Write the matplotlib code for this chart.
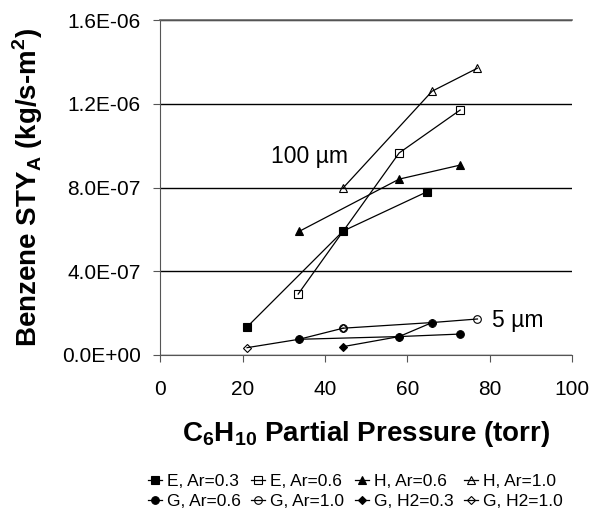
import matplotlib.pyplot as plt
from matplotlib.ticker import FuncFormatter, MultipleLocator

plt.rcParams['font.family'] = ['Liberation Sans', 'DejaVu Sans']

# data (x = C6H10 partial pressure, torr)
e_ar03_x = [21.1, 44.4, 64.8]
e_ar03_y = [1.34e-7, 5.92e-7, 7.80e-7]
e_ar06_x = [33.5, 58.0, 72.8]
e_ar06_y = [2.91e-7, 9.65e-7, 1.17e-6]
h_ar06_x = [33.7, 58.0, 72.8]
h_ar06_y = [5.90e-7, 8.40e-7, 9.07e-7]
h_ar10_x = [44.4, 66.0, 77.0]
h_ar10_y = [7.98e-7, 1.26e-6, 1.37e-6]
g_ar06_x = [33.7, 58.0, 72.8]
g_ar06_y = [0.75e-7, 0.88e-7, 1.00e-7]
g_ar10_x = [44.4, 66.0, 77.0]
g_ar10_y = [1.28e-7, 1.55e-7, 1.72e-7]
g_h03_x = [44.4, 58.0, 66.0]
g_h03_y = [0.40e-7, 0.88e-7, 1.55e-7]
g_h10_x = [21.1, 33.7, 44.4]
g_h10_y = [0.35e-7, 0.75e-7, 1.28e-7]

series = [
    ("E, Ar=0.3", e_ar03_x, e_ar03_y, 's', 'full'),
    ("E, Ar=0.6", e_ar06_x, e_ar06_y, 's', 'none'),
    ("H, Ar=0.6", h_ar06_x, h_ar06_y, '^', 'full'),
    ("H, Ar=1.0", h_ar10_x, h_ar10_y, '^', 'none'),
    ("G, Ar=0.6", g_ar06_x, g_ar06_y, 'o', 'full'),
    ("G, Ar=1.0", g_ar10_x, g_ar10_y, 'o', 'none'),
    ("G, H2=0.3", g_h03_x, g_h03_y, 'D', 'full'),
    ("G, H2=1.0", g_h10_x, g_h10_y, 'D', 'none'),
]

fig = plt.figure(figsize=(5.93, 5.13), dpi=100)
ax = fig.add_axes([0.27, 0.308, 0.695, 0.653])

handles = []
for label, xs, ys, mk, fs in series:
    ms = 4.5 if mk == 'D' else 5.5
    ln, = ax.plot(xs, ys, color='black', lw=0.9, marker=mk, markersize=ms,
                  fillstyle=fs, markerfacecolor='black' if fs == 'full' else 'white',
                  markeredgecolor='black', markeredgewidth=0.8, label=label)
    handles.append(ln)

ax.set_xlim(0, 100)
ax.set_ylim(0, 1.6e-6)
ax.xaxis.set_major_locator(MultipleLocator(20))
ax.yaxis.set_major_locator(MultipleLocator(4e-7))
ax.yaxis.set_major_formatter(FuncFormatter(lambda v, p: f"{v:.1E}"))
ax.grid(axis='y', color='black', lw=1)
ax.set_axisbelow(True)
ax.spines['right'].set_visible(False)
ax.spines['top'].set_color('#666666')
ax.spines['top'].set_linewidth(1.2)
for s in ['left', 'bottom']:
    ax.spines[s].set_color('#555555')
ax.tick_params(axis='both', labelsize=15, length=5, color='#555555')
ax.tick_params(axis='y', pad=9)
ax.tick_params(axis='x', pad=13)

ax.set_ylabel("Benzene STY$_\\mathregular{A}$ (kg/s-m$^\\mathregular{2}$)",
              fontsize=20, fontweight='bold')
ax.set_xlabel("C$_\\mathregular{6}$H$_\\mathregular{10}$ Partial Pressure (torr)",
              fontsize=20, fontweight='bold')
ax.yaxis.set_label_coords(-0.28, 0.5)
ax.xaxis.set_label_coords(0.5, -0.19)

ax.text(36.2, 9.46e-7, "100 \u00b5m", fontsize=16.5, ha='center', va='center')
ax.text(80.6, 1.67e-7, "5 \u00b5m", fontsize=16.5, ha='left', va='center')

# legend fills column-wise, so reorder for row-wise look
order = [0, 4, 1, 5, 2, 6, 3, 7]
fig.legend([handles[i] for i in order], [series[i][0] for i in order],
           loc='center', bbox_to_anchor=(0.599, 0.042), ncol=4, frameon=False,
           fontsize=12.5, handlelength=0.8, handletextpad=0.3, columnspacing=0.6,
           labelspacing=0.3, borderpad=0.1)

fig.savefig("out.png", dpi=100)
